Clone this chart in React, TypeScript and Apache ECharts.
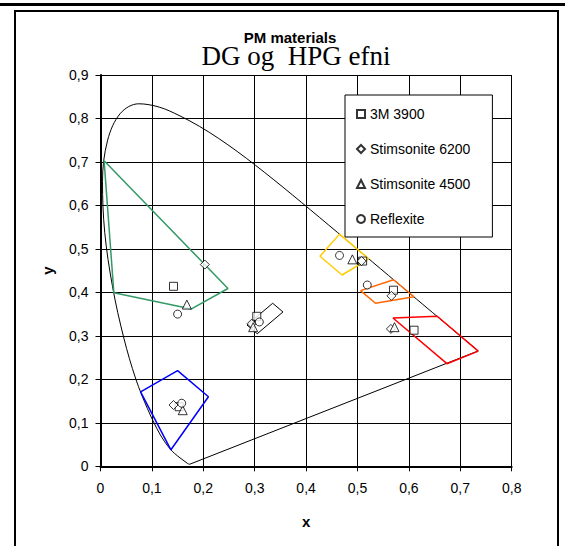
import React, { useEffect, useRef } from "react";
import * as echarts from "echarts";

// CIE 1931 spectral locus (x, y), 380 nm to 700 nm
const locus: number[][] = [
  [0.1741, 0.005], [0.1738, 0.0049], [0.1733, 0.0048], [0.1726, 0.0048], [0.1714, 0.0051],
  [0.1689, 0.0069], [0.1644, 0.0109], [0.1566, 0.0177], [0.144, 0.0297], [0.1355, 0.0399],
  [0.1241, 0.0578], [0.1096, 0.0868], [0.0913, 0.1327], [0.0687, 0.2007], [0.0454, 0.295],
  [0.0235, 0.4127], [0.0082, 0.5384], [0.0039, 0.6548], [0.0139, 0.7502], [0.0389, 0.812],
  [0.0743, 0.8338], [0.1142, 0.8262], [0.1547, 0.8059], [0.1929, 0.7816], [0.2296, 0.7543],
  [0.2658, 0.7243], [0.3016, 0.6923], [0.3373, 0.6589], [0.3731, 0.6245], [0.4087, 0.5896],
  [0.4441, 0.5547], [0.4788, 0.5202], [0.5125, 0.4866], [0.5448, 0.4544], [0.5752, 0.4242],
  [0.6029, 0.3965], [0.627, 0.3725], [0.6658, 0.334], [0.6915, 0.3083], [0.7079, 0.292],
  [0.719, 0.2809], [0.726, 0.274], [0.73, 0.27], [0.7334, 0.2666], [0.7347, 0.2653],
];
// line of purples
const purpleLine = [[0.7347, 0.2653], [0.1741, 0.005]];

// colour boxes (corner points)
const greenBox = [[0.007, 0.703], [0.248, 0.409], [0.177, 0.362], [0.026, 0.399]];
const blueBox = [[0.078, 0.171], [0.15, 0.22], [0.21, 0.16], [0.137, 0.038]];
const whiteBox = [[0.355, 0.355], [0.305, 0.305], [0.285, 0.325], [0.335, 0.375]];
const yellowBox = [[0.522, 0.477], [0.47, 0.44], [0.427, 0.483], [0.465, 0.534]];
const orangeBox = [[0.61, 0.39], [0.535, 0.375], [0.506, 0.404], [0.57, 0.429]];
const redBox = [[0.735, 0.265], [0.674, 0.236], [0.569, 0.341], [0.655, 0.345]];

// measured materials
const m3900 = [[0.142, 0.414], [0.153, 0.137], [0.304, 0.345], [0.51, 0.472], [0.57, 0.405], [0.61, 0.313]];
const s6200 = [[0.203, 0.464], [0.142, 0.141], [0.294, 0.328], [0.508, 0.472], [0.566, 0.392], [0.565, 0.316]];
const s4500 = [[0.168, 0.372], [0.16, 0.129], [0.297, 0.32], [0.49, 0.476], [0.572, 0.32]];
const reflexite = [[0.15, 0.35], [0.158, 0.145], [0.309, 0.332], [0.465, 0.485], [0.519, 0.417]];

const seriesNames = ["3M 3900", "Stimsonite 6200", "Stimsonite 4500", "Reflexite"];

const fmt = (v: number) => {
  const r = Math.round(v * 10) / 10;
  return r === 0 ? "0" : r.toFixed(1).replace(".", ",");
};

const closed = (pts: number[][]) => [...pts, pts[0]];

export default function App() {
  const ref = useRef<HTMLDivElement>(null);
  useEffect(() => {
    if (!ref.current) return;
    const chart = echarts.init(ref.current, null, { renderer: "svg" });
    const font = "Arial, 'Liberation Sans', sans-serif";
    const lineSeries = (name: string, pts: number[][], color: string, width: number, smooth: number | boolean = false) => ({
      name,
      type: "line",
      data: pts,
      symbol: "none",
      smooth,
      lineStyle: { color, width },
      silent: true,
      z: 2,
    });
    const pointSeries = (name: string, pts: number[][], symbol: string, size: number) => ({
      name,
      type: "scatter",
      data: pts,
      symbol,
      symbolSize: size,
      itemStyle: { color: "#fff", borderColor: "#000", borderWidth: 1 },
      z: 5,
    });
    chart.setOption({
      animation: false,
      backgroundColor: "#fff",
      textStyle: { fontFamily: font },
      grid: { left: 100.5, top: 75, right: 53.3, bottom: 79.7, containLabel: false },
      xAxis: {
        type: "value",
        min: 0,
        max: 0.8,
        interval: 0.1,
        name: "x",
        nameLocation: "middle",
        nameGap: 48,
        nameTextStyle: { fontSize: 15, fontWeight: "bold", color: "#000", fontFamily: font },
        axisLine: { show: true, onZero: false, lineStyle: { color: "#000", width: 2 } },
        axisTick: { show: true, length: 5, lineStyle: { color: "#000" } },
        axisLabel: { formatter: fmt, fontSize: 14, color: "#000", margin: 15, fontFamily: font },
        splitLine: { show: true, lineStyle: { color: "#000", width: 1 } },
      },
      yAxis: {
        type: "value",
        min: 0,
        max: 0.9,
        interval: 0.1,
        name: "y",
        nameLocation: "middle",
        nameGap: 46,
        nameRotate: 90,
        nameTextStyle: { fontSize: 15, fontWeight: "bold", color: "#000", fontFamily: font },
        axisLine: { show: true, onZero: false, lineStyle: { color: "#000", width: 2 } },
        axisTick: { show: true, length: 5, lineStyle: { color: "#000" } },
        axisLabel: { formatter: fmt, fontSize: 14, color: "#000", margin: 12, fontFamily: font },
        splitLine: { show: true, lineStyle: { color: "#000", width: 1 } },
      },
      legend: {
        data: seriesNames,
        orient: "vertical",
        left: 345,
        top: 95,
        itemWidth: 8,
        itemHeight: 8,
        itemGap: 19,
        padding: [11, 22, 10, 11],
        borderColor: "#000",
        borderWidth: 1,
        backgroundColor: "#fff",
        textStyle: { fontSize: 14, color: "#000", fontFamily: font, lineHeight: 16 },
        z: 10,
      },
      graphic: [
        { type: "rect", shape: { x: 0, y: 3, width: 565, height: 3 }, style: { fill: "#000" }, silent: true },
        {
          type: "rect",
          shape: { x: 15, y: 11, width: 543, height: 560 },
          style: { fill: "none", stroke: "#000", lineWidth: 2 },
          silent: true,
          z: -1,
        },
        {
          type: "text",
          x: 290,
          y: 37,
          style: {
            text: "PM materials",
            fill: "#000",
            font: `bold 15px ${font}`,
            align: "center",
            verticalAlign: "middle",
          },
          z: 20,
        },
        {
          type: "text",
          x: 296,
          y: 56,
          style: {
            text: "DG og  HPG efni",
            fill: "#000",
            font: "27px 'Liberation Serif', 'Times New Roman', serif",
            align: "center",
            verticalAlign: "middle",
          },
          z: 20,
        },
      ],
      series: [
        lineSeries("locus", locus, "#000", 1, 0.35),
        lineSeries("purple", purpleLine, "#000", 1),
        lineSeries("green", closed(greenBox), "#339966", 1.5),
        lineSeries("blue", closed(blueBox), "#0000ff", 1.5),
        lineSeries("white", closed(whiteBox), "#000", 1),
        lineSeries("yellow", closed(yellowBox), "#ffcc00", 1.5),
        lineSeries("orange", closed(orangeBox), "#ff6600", 1.5),
        lineSeries("red", closed(redBox), "#ff0000", 1.5),
        pointSeries(seriesNames[0], m3900, "rect", 8),
        pointSeries(seriesNames[1], s6200, "diamond", 9),
        pointSeries(seriesNames[2], s4500, "triangle", 9),
        pointSeries(seriesNames[3], reflexite, "circle", 8),
      ],
    });
    return () => chart.dispose();
  }, []);
  return <div ref={ref} style={{ position: "absolute", left: 0, top: 0, width: 565, height: 546 }} />;
}
